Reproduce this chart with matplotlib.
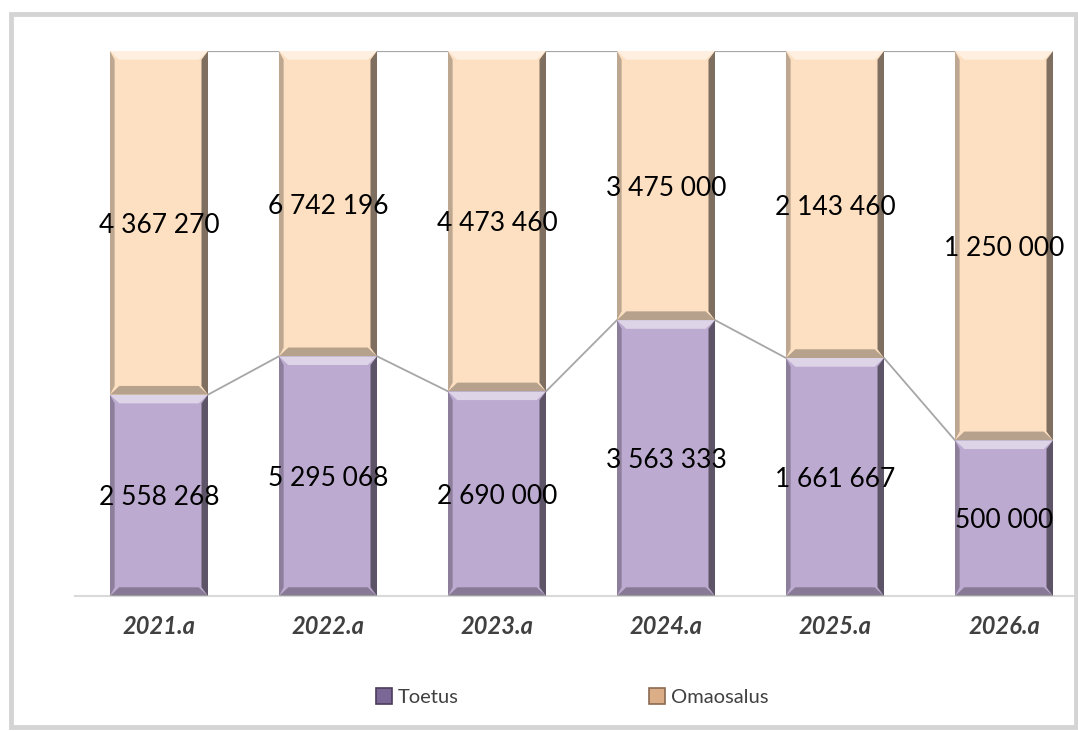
import numpy as np
import matplotlib.pyplot as plt
from matplotlib.patches import Polygon, Rectangle
from matplotlib.lines import Line2D

# %% Data

years = ["2021.a", "2022.a", "2023.a", "2024.a", "2025.a", "2026.a"]
toetus = np.array([2558268, 5295068, 2690000, 3563333, 1661667, 500000])
omaosalus = np.array([4367270, 6742196, 4473460, 3475000, 2143460, 1250000])
series_names = ["Toetus", "Omaosalus"]

col_toetus = "#bdaad0"
col_omaosalus = "#fde0c2"


def fmt(v):
    # thousands separated with a space
    return "{:,}".format(int(v)).replace(",", " ")


def bevel(ax, bar, bx, by):
    # simple bevel effect on one bar, bx/by = bevel size in data units
    x0, y0 = bar.get_x(), bar.get_y()
    x1, y1 = x0 + bar.get_width(), y0 + bar.get_height()
    parts = [
        ([(x0, y1), (x1, y1), (x1 - bx, y1 - by), (x0 + bx, y1 - by)], "white", 0.5),
        ([(x0, y0), (x1, y0), (x1 - bx, y0 + by), (x0 + bx, y0 + by)], "black", 0.28),
        ([(x0, y0), (x0, y1), (x0 + bx * 0.5, y1 - by), (x0 + bx * 0.5, y0 + by)], "black", 0.25),
        ([(x1, y0), (x1, y1), (x1 - bx * 0.7, y1 - by), (x1 - bx * 0.7, y0 + by)], "black", 0.5),
    ]
    for pts, c, a in parts:
        ax.add_patch(Polygon(pts, closed=True, facecolor=c, alpha=a, edgecolor="none", zorder=3))


# %% Shares for the 100% stacked bars

total = toetus + omaosalus
share_t = toetus / total
share_o = omaosalus / total

W, H = 1078, 731
fig = plt.figure(figsize=(W / 100, H / 100), dpi=100)
plt.rcParams['font.family'] = ['Lato', 'DejaVu Sans']

# outer chart frame
fig.patches.append(Rectangle((11 / W, 4 / H), 1065 / W, 713 / H, transform=fig.transFigure,
                             fill=False, edgecolor="#d4d4d4", linewidth=3.5, zorder=0))

ax = fig.add_axes([74.5 / W, 135 / H, 1001.5 / W, 545 / H])

x = np.arange(len(years))
width = 0.58
bars_t = ax.bar(x, share_t, width, color=col_toetus, edgecolor="none", zorder=2, label=series_names[0])
bars_o = ax.bar(x, share_o, width, bottom=share_t, color=col_omaosalus, edgecolor="none", zorder=2,
                label=series_names[1])

bx, by = 0.055, 0.016
for b in list(bars_t) + list(bars_o):
    bevel(ax, b, bx, by)

# series lines between bars
for i in range(len(years) - 1):
    ax.plot([x[i] + width / 2, x[i + 1] - width / 2], [share_t[i], share_t[i + 1]],
            color="#a6a6a6", linewidth=1.3, zorder=1)
    ax.plot([x[i] + width / 2, x[i + 1] - width / 2], [1, 1],
            color="#a6a6a6", linewidth=1.6, zorder=1)

# value labels centered in each segment
for i in range(len(years)):
    ax.text(x[i], share_t[i] / 2, fmt(toetus[i]), ha="center", va="center_baseline",
            fontsize=19, color="black", zorder=5)
    ax.text(x[i], share_t[i] + share_o[i] / 2, fmt(omaosalus[i]), ha="center", va="center_baseline",
            fontsize=19, color="black", zorder=5)

ax.set_xlim(-0.5, -0.5 + 1001.5 / 169)
ax.set_ylim(0, 1)
ax.set_yticks([])
ax.set_xticks(x)
ax.set_xticklabels(years, fontsize=17, fontweight="bold", fontstyle="italic", color="#404040")
ax.tick_params(axis="x", length=0, pad=14)
for s in ["top", "right", "left"]:
    ax.spines[s].set_visible(False)
ax.spines["bottom"].set_color("#d9d9d9")
ax.spines["bottom"].set_linewidth(1.5)

# legend
handles = [
    Line2D([], [], marker="s", linestyle="none", markersize=12, markerfacecolor="#7b6896",
           markeredgecolor="#4a3d5c", markeredgewidth=1.2),
    Line2D([], [], marker="s", linestyle="none", markersize=12, markerfacecolor="#dcae88",
           markeredgecolor="#8a6a50", markeredgewidth=1.2),
]
fig.legend(handles, series_names, loc="center", bbox_to_anchor=(573 / W, 1 - 697 / H), ncol=2,
           frameon=False, fontsize=14.5, handlelength=0.7, handletextpad=0.35, columnspacing=9.5,
           labelcolor="#404040")

fig.savefig("out.png", dpi=100)
